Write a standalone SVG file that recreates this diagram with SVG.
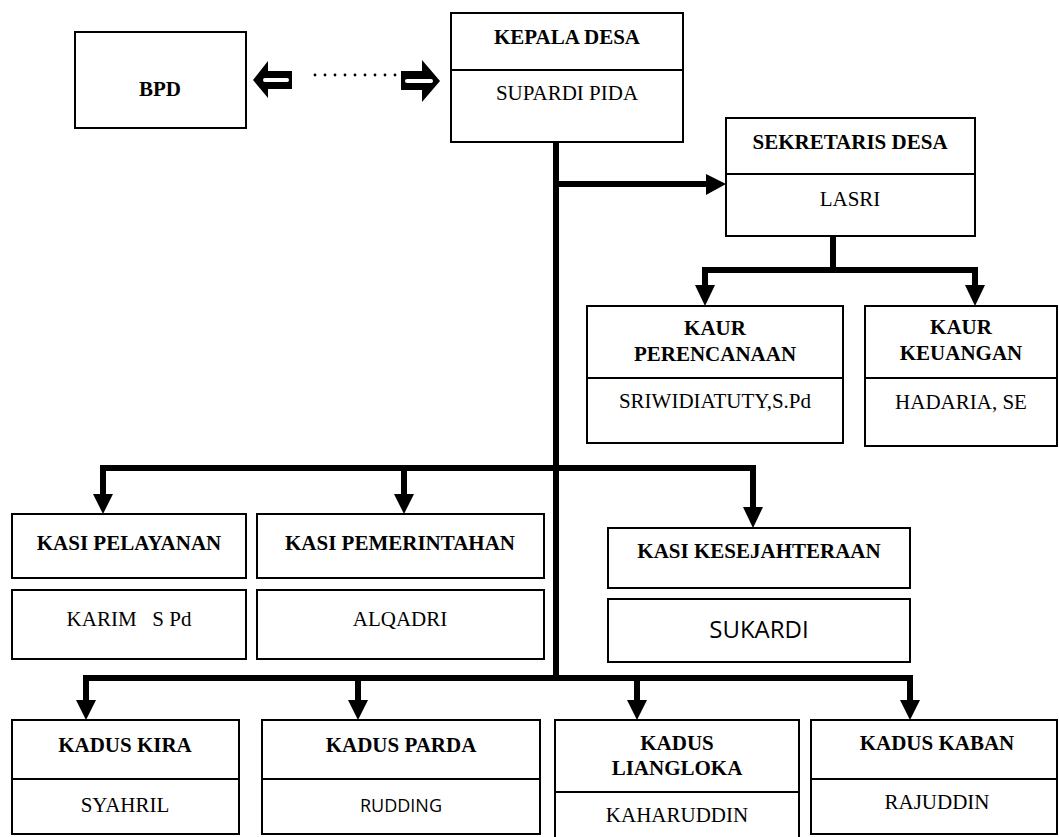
<svg xmlns="http://www.w3.org/2000/svg" width="1059" height="837" viewBox="0 0 1059 837">
<style>
.box{fill:#fff;stroke:#000;stroke-width:2}
.div{stroke:#000;stroke-width:2}
.t{font-family:"Liberation Serif","Times New Roman",serif;font-weight:bold;font-size:21px;text-anchor:middle;fill:#000}
.n{font-family:"Liberation Serif","Times New Roman",serif;font-size:21px;text-anchor:middle;fill:#000}
.s{font-family:"Open Sans","Noto Sans",sans-serif;text-anchor:middle;fill:#000}
.ln{fill:none;stroke:#000;stroke-width:6;stroke-linejoin:miter;stroke-linecap:butt}
.ah{fill:#000}
</style>
<g id="connectors">
  <path class="ln" d="M556,142 V681"/>
  <path class="ln" d="M556,184 H708"/>
  <polygon class="ah" points="706,174 726,184 706,195"/>
  <path class="ln" d="M833,236 V270"/>
  <path class="ln" d="M705,287 V270 H975 V287"/>
  <polygon class="ah" points="695,285 715,285 705,306"/>
  <polygon class="ah" points="965,285 985,285 975,306"/>
  <path class="ln" d="M103,496 V468 H753 V509"/>
  <path class="ln" d="M404,468 V496"/>
  <polygon class="ah" points="93,494 113,494 103,514"/>
  <polygon class="ah" points="394,494 414,494 404,514"/>
  <polygon class="ah" points="743,507 763,507 753,528"/>
  <path class="ln" d="M86,702 V678 H910 V702"/>
  <path class="ln" d="M358,678 V702"/>
  <path class="ln" d="M637,678 V702"/>
  <polygon class="ah" points="76,700 96,700 86,720"/>
  <polygon class="ah" points="348,700 368,700 358,720"/>
  <polygon class="ah" points="627,700 647,700 637,720"/>
  <polygon class="ah" points="900,700 920,700 910,720"/>
  <g id="bpd-link">
    <polygon points="253,80 268,61 268,71 292,71 292,89 268,89 268,98" fill="#000"/>
    <rect x="263" y="78" width="26" height="4" rx="2" fill="#fff"/>
    <g fill="#000">
      <circle cx="315" cy="75" r="1.4"/><circle cx="325" cy="75" r="1.4"/><circle cx="335" cy="75" r="1.4"/>
      <circle cx="345" cy="75" r="1.4"/><circle cx="355" cy="75" r="1.4"/><circle cx="365" cy="75" r="1.4"/>
      <circle cx="375" cy="75" r="1.4"/><circle cx="385" cy="75" r="1.4"/><circle cx="395" cy="75" r="1.4"/>
    </g>
    <polygon points="401,71 422,71 422,60 440,81 422,102 422,90 401,90" fill="#000"/>
    <rect x="405" y="79" width="28" height="4" rx="2" fill="#fff"/>
  </g>
</g>
<g id="bpd">
  <rect class="box" x="75" y="32" width="171" height="96"/>
  <text class="t" x="160" y="96">BPD</text>
</g>
<g id="kepala-desa">
  <rect class="box" x="451" y="13" width="232" height="129"/>
  <line class="div" x1="451" y1="70" x2="683" y2="70"/>
  <text class="t" x="567" y="44">KEPALA DESA</text>
  <text class="n" x="567" y="100">SUPARDI PIDA</text>
</g>
<g id="sekretaris-desa">
  <rect class="box" x="726" y="118" width="249" height="118"/>
  <line class="div" x1="726" y1="174" x2="975" y2="174"/>
  <text class="t" x="850" y="149">SEKRETARIS DESA</text>
  <text class="n" x="850" y="206">LASRI</text>
</g>
<g id="kaur-perencanaan">
  <rect class="box" x="587" y="306" width="256" height="137"/>
  <line class="div" x1="587" y1="378" x2="843" y2="378"/>
  <text class="t" x="715" y="335">KAUR</text>
  <text class="t" x="715" y="361">PERENCANAAN</text>
  <text class="n" x="715" y="408">SRIWIDIATUTY,S.Pd</text>
</g>
<g id="kaur-keuangan">
  <rect class="box" x="865" y="306" width="192" height="140"/>
  <line class="div" x1="865" y1="378" x2="1057" y2="378"/>
  <text class="t" x="961" y="334">KAUR</text>
  <text class="t" x="961" y="360">KEUANGAN</text>
  <text class="n" x="961" y="409">HADARIA, SE</text>
</g>
<g id="kasi-pelayanan">
  <rect class="box" x="12" y="514" width="234" height="64"/>
  <text class="t" x="129" y="550">KASI PELAYANAN</text>
  <rect class="box" x="12" y="590" width="234" height="69"/>
  <text class="n" x="129" y="626" xml:space="preserve" style="white-space:pre">KARIM   S Pd</text>
</g>
<g id="kasi-pemerintahan">
  <rect class="box" x="257" y="514" width="287" height="64"/>
  <text class="t" x="400" y="550">KASI PEMERINTAHAN</text>
  <rect class="box" x="257" y="590" width="287" height="69"/>
  <text class="n" x="400" y="626">ALQADRI</text>
</g>
<g id="kasi-kesejahteraan">
  <rect class="box" x="608" y="528" width="302" height="60"/>
  <text class="t" x="759" y="558">KASI KESEJAHTERAAN</text>
  <rect class="box" x="608" y="599" width="302" height="63"/>
  <text class="s" x="759" y="638" font-size="24">SUKARDI</text>
</g>
<g id="kadus-kira">
  <rect class="box" x="12" y="720" width="227" height="114"/>
  <line class="div" x1="12" y1="779" x2="239" y2="779"/>
  <text class="t" x="125" y="752">KADUS KIRA</text>
  <text class="n" x="125" y="812">SYAHRIL</text>
</g>
<g id="kadus-parda">
  <rect class="box" x="262" y="720" width="278" height="114"/>
  <line class="div" x1="262" y1="779" x2="540" y2="779"/>
  <text class="t" x="401" y="752">KADUS PARDA</text>
  <text class="s" x="401" y="812" font-size="18">RUDDING</text>
</g>
<g id="kadus-liangloka">
  <rect class="box" x="555" y="720" width="244" height="125"/>
  <line class="div" x1="555" y1="792" x2="799" y2="792"/>
  <text class="t" x="677" y="750">KADUS</text>
  <text class="t" x="677" y="775">LIANGLOKA</text>
  <text class="n" x="677" y="822">KAHARUDDIN</text>
</g>
<g id="kadus-kaban">
  <rect class="box" x="811" y="720" width="246" height="114"/>
  <line class="div" x1="811" y1="779" x2="1057" y2="779"/>
  <text class="t" x="937" y="750">KADUS KABAN</text>
  <text class="n" x="937" y="809">RAJUDDIN</text>
</g>
</svg>
